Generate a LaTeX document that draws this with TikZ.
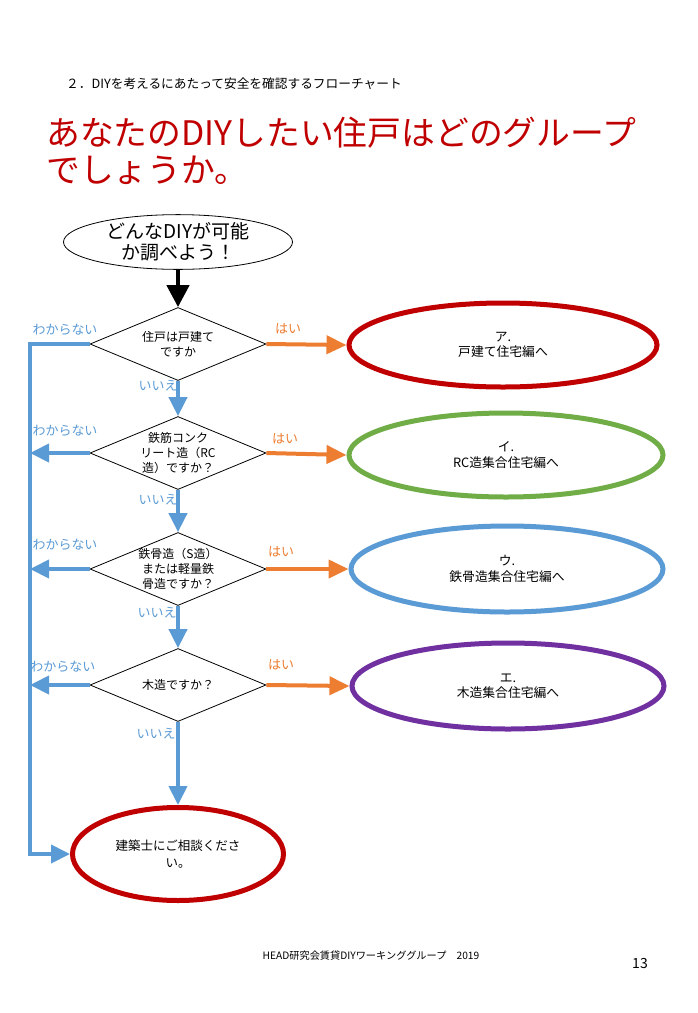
\documentclass[tikz,border=0pt]{standalone}
\usepackage{fontspec}
\setmainfont{Noto Sans CJK JP}
\usetikzlibrary{shapes.geometric,arrows.meta}
\definecolor{ored}{HTML}{C00000}
\definecolor{ogreen}{HTML}{70AD47}
\definecolor{oblue}{HTML}{5B9BD5}
\definecolor{opurple}{HTML}{7030A0}
\definecolor{oorange}{HTML}{ED7D31}
\begin{document}
\begin{tikzpicture}[x=1pt,y=-1pt,
  dia/.style={draw=black, diamond, minimum width=176pt, minimum height=73pt, inner sep=0pt, line width=0.8pt},
  dtxt/.style={align=center, inner sep=0pt, font=\fontsize{12}{15}\selectfont},
  goal/.style={ellipse, line width=5pt, minimum width=308pt, minimum height=84pt, align=center, font=\fontsize{12.8}{15.5}\selectfont},
  blu/.style={draw=oblue, line width=4pt, -{Triangle[length=19pt,width=18pt]}},
  bline/.style={draw=oblue, line width=4pt},
  ora/.style={draw=oorange, line width=4pt, -{Triangle[length=20pt,width=18pt]}},
  blk/.style={draw=black, line width=4.5pt, -{Triangle[length=22pt,width=22pt]}},
  nolab/.style={text=oblue, font=\fontsize{13}{15}\selectfont, inner sep=0pt},
  yeslab/.style={text=oorange, font=\fontsize{13}{15}\selectfont, inner sep=0pt}
]
\useasboundingbox[fill=white] (0,0) rectangle (698,1013);

\node[anchor=west, inner sep=0pt, font=\fontsize{12.7}{15}\selectfont] (hdr) at (66,84) {２．DIYを考えるにあたって安全を確認するフローチャート};
\node[anchor=west, inner sep=0pt, text=ored, font=\fontsize{33.8}{38}\selectfont] (ttl1) at (46,133) {あなたのDIYしたい住戸はどのグループ};
\node[anchor=west, inner sep=0pt, text=ored, font=\fontsize{33.8}{38}\selectfont] (ttl2) at (46,170) {でしょうか。};

\node[draw=black, ellipse, line width=0.8pt, minimum width=229pt, minimum height=54pt, inner sep=0pt, align=center, font=\fontsize{19}{21}\selectfont] (start) at (178,242) {どんなDIYが可能\\か調べよう！};

\node[dia] (d1) at (178,344) {};
\node[dtxt] (t1) at (d1) {住戸は戸建て\\ですか};
\node[dia] (d2) at (178,453) {};
\node[dtxt] (t2) at (d2) {鉄筋コンク\\リート造（RC\\造）ですか？};
\node[dia] (d3) at (178,569) {};
\node[dtxt] (t3) at (d3) {鉄骨造（S造）\\または軽量鉄\\骨造ですか？};
\node[dia] (d4) at (178,685) {};
\node[dtxt] (t4) at (d4) {木造ですか？};

\node[goal, draw=ored] (ga) at (503,345) {ア.\\戸建て住宅編へ};
\node[goal, draw=ogreen, minimum width=314pt] (gi) at (506,455) {イ.\\RC造集合住宅編へ};
\node[goal, draw=oblue, minimum width=312pt, minimum height=86pt] (gu) at (507,569) {ウ.\\鉄骨造集合住宅編へ};
\node[goal, draw=opurple, minimum width=312pt, minimum height=86pt] (ge) at (508,686) {エ.\\木造集合住宅編へ};

\node[ellipse, draw=ored, line width=5pt, minimum width=211pt, minimum height=93pt, align=center, font=\fontsize{12.5}{17}\selectfont] (end) at (178,854) {建築士にご相談くださ\\い。};

\coordinate (L1) at (30,344);

\draw[blk] (start.south) -- (d1.north);
\draw[blu] (d1.south) -- (d2.north);
\draw[blu] (d2.south) -- (d3.north);
\draw[blu] (d3.south) -- (d4.north);
\draw[blu] (d4.south) -- (end.north);

\draw[blu] (d1.west) -- (L1) |- (end.west);
\draw[blu] (d2.west) -- (d2.west -| L1);
\draw[blu] (d3.west) -- (d3.west -| L1);
\draw[blu] (d4.west) -- (d4.west -| L1);

\draw[ora] (d1.east) -- (ga.west);
\draw[ora] (d2.east) -- (gi.west);
\draw[ora] (d3.east) -- (gu.west);
\draw[ora] (d4.east) -- (ge.west);

\node[nolab] (n1) at (158,386) {いいえ};
\node[nolab] (n2) at (158,500) {いいえ};
\node[nolab] (n3) at (157,613) {いいえ};
\node[nolab] (n4) at (156,734) {いいえ};

\node[nolab] (w1) at (65,330) {わからない};
\node[nolab] (w2) at (65,431) {わからない};
\node[nolab] (w3) at (65,545) {わからない};
\node[nolab] (w4) at (63,667) {わからない};

\node[yeslab] (y1) at (288,329) {はい};
\node[yeslab] (y2) at (285,439) {はい};
\node[yeslab] (y3) at (281,552) {はい};
\node[yeslab] (y4) at (281,665) {はい};

\node[inner sep=0pt, font=\fontsize{10.2}{13}\selectfont] (ftr) at (371,956) {HEAD研究会賃貸DIYワーキンググループ　2019};
\node[inner sep=0pt, font=\fontsize{14}{16}\selectfont] (pg) at (640,963) {13};
\end{tikzpicture}
\end{document}
